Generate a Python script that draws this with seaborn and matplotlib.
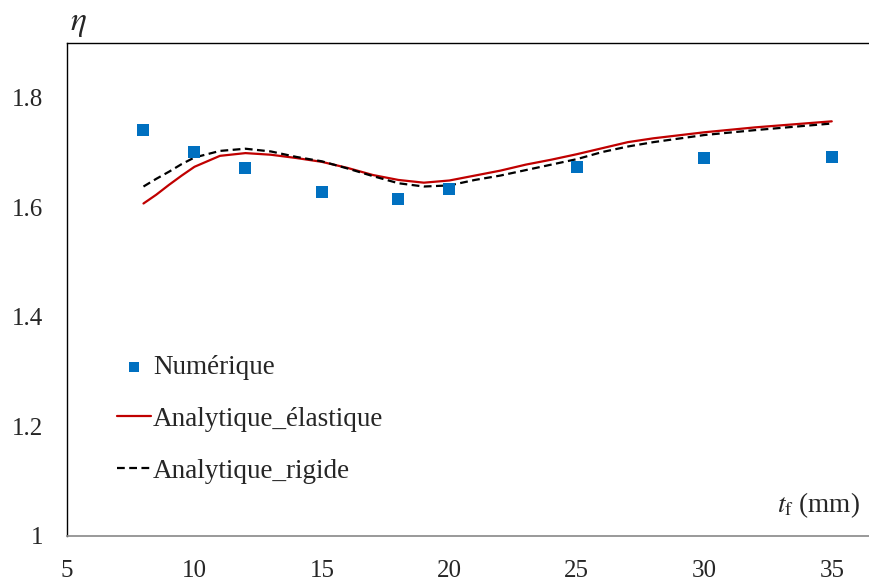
import numpy as np
import pandas as pd
import matplotlib
matplotlib.use("Agg")
import matplotlib.pyplot as plt
import seaborn as sns

# Numerical results (square markers)
t_num = [8, 10, 12, 15, 18, 20, 25, 30, 35]
eta_num = [1.741, 1.701, 1.672, 1.628, 1.615, 1.634, 1.674, 1.690, 1.692]

# Analytical curves
t_line = [8, 8.5, 9, 9.5, 10, 11, 12, 13, 14, 15, 16, 17, 18, 19, 20,
          21, 22, 23, 24, 25, 26, 27, 28, 30, 32, 35]
eta_elastic = [1.607, 1.623, 1.641, 1.658, 1.674, 1.694, 1.699, 1.696, 1.690,
               1.683, 1.672, 1.659, 1.650, 1.645, 1.649, 1.658, 1.667, 1.678,
               1.687, 1.697, 1.708, 1.719, 1.726, 1.737, 1.746, 1.757]
eta_rigid = [1.638, 1.652, 1.665, 1.679, 1.691, 1.703, 1.707, 1.702, 1.692,
             1.684, 1.671, 1.657, 1.644, 1.638, 1.640, 1.650, 1.658, 1.668,
             1.678, 1.688, 1.701, 1.711, 1.719, 1.732, 1.741, 1.753]

x_ticks = [5, 10, 15, 20, 25, 30, 35]
y_ticks = [1.0, 1.2, 1.4, 1.6, 1.8]
y_tick_labels = ["1", "1.2", "1.4", "1.6", "1.8"]

sns.set_style("white")
plt.rcParams["font.family"] = ["Liberation Serif", "DejaVu Serif"]
plt.rcParams["mathtext.fontset"] = "stix"

fig = plt.figure(figsize=(8.7, 5.81), dpi=100)
W, H = 870, 581
ax = fig.add_axes([67 / W, 45 / H, (W - 67) / W, (536 - 43) / H])

sns.scatterplot(x=t_num, y=eta_num, marker="s", s=64, color="#0070C0",
                linewidth=0, ax=ax, label="Numérique", zorder=3)
sns.lineplot(x=t_line, y=eta_elastic, color="#C00000", linewidth=1.6,
             ax=ax, label="Analytique_élastique", zorder=2)
sns.lineplot(x=t_line, y=eta_rigid, color="black", linewidth=1.6,
             dashes=(3.5, 2), ax=ax, label="Analytique_rigide", zorder=2)

ax.set_xlim(5, 36.5)
ax.set_ylim(1.0, 1.9)
ax.set_xticks(x_ticks)
ax.set_xticklabels([str(v) for v in x_ticks])
ax.set_yticks(y_ticks)
ax.set_yticklabels(y_tick_labels)
ax.tick_params(axis="both", length=0, labelsize=18)
ax.tick_params(axis="x", pad=17)
ax.tick_params(axis="y", pad=17)
ax.set_xlabel("")
ax.set_ylabel("")

for side in ["left", "top"]:
    ax.spines[side].set_color("black")
    ax.spines[side].set_linewidth(1.0)
ax.spines["bottom"].set_color("#888888")
ax.spines["bottom"].set_linewidth(1.2)
ax.spines["right"].set_visible(False)

handles, labels = ax.get_legend_handles_labels()
order = [labels.index(l) for l in ["Numérique", "Analytique_élastique", "Analytique_rigide"]]
ax.legend([handles[i] for i in order], [labels[i] for i in order],
          loc="upper left", bbox_to_anchor=(117 / W, 1 - 355 / H),
          bbox_transform=fig.transFigure, frameon=False, fontsize=19.5,
          handlelength=1.25, handletextpad=0.08, labelspacing=0.99,
          borderpad=0, borderaxespad=0, markerscale=0.9)

fig.text(78 / W, 1 - 24 / H, r"$\eta$", fontsize=24, ha="center", va="center")
fig.text(860 / W, 1 - 505 / H, r"$t_{\mathrm{f}}$" + " (mm)", fontsize=19.5,
         ha="right", va="center")

fig.savefig("out.png", dpi=100)
